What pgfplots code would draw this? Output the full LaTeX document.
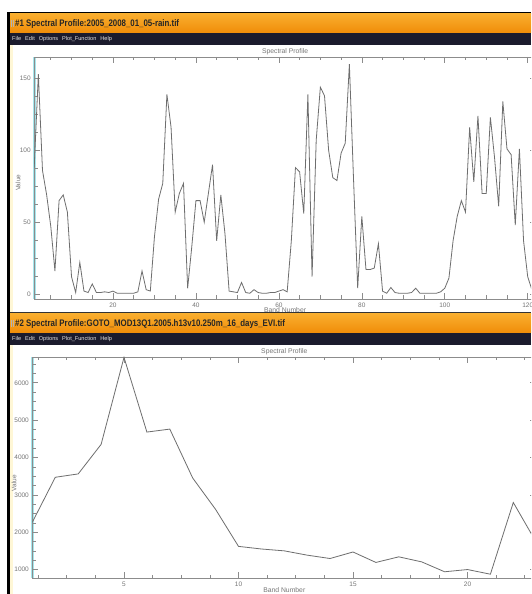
\documentclass[border=0pt]{standalone}
\usepackage{fontspec}
\setmainfont{Liberation Sans}
\usepackage{pgfplots}
\usepackage{pgfplotstable}
\pgfplotsset{compat=1.18}

\definecolor{barlt}{HTML}{F9AE2E}
\definecolor{bardk}{HTML}{F08C08}
\definecolor{menubg}{HTML}{1B1B2D}
\definecolor{axgray}{HTML}{8C8C8C}
\definecolor{curve}{HTML}{6E6E6E}
\definecolor{lbl}{HTML}{767676}
\definecolor{cyanbar}{HTML}{A6E6EC}
\definecolor{cream}{HTML}{FFF7D6}

% rainfall profile, 2005-2008
\pgfplotstableread{
b v
1 88
2 153
3 86
4 69
5 47
6 16
7 65
8 69
9 57
10 12
11 1
12 22
13 2
14 1
15 7
16 1
17 1
18 1.5
19 1
20 2
21 0.5
22 0.5
23 0.5
24 0.5
25 0.5
26 1.5
27 16
28 3
29 2
30 40
31 66
32 77
33 139
34 116
35 57
36 70
37 77
38 4
39 33
40 65
41 65
42 50
43 70
44 90
45 37
46 69
47 42
48 2
49 1.5
50 1
51 8
52 1
53 0.5
54 3
55 1
56 0.5
57 0.5
58 1
59 1
60 2
61 3
62 1.5
63 37
64 88
65 85
66 56
67 139
68 12
69 107
70 144
71 138
72 100
73 81
74 79
75 98
76 105
77 160
78 80
79 4
80 54
81 17
82 17
83 18
84 35
85 2
86 0.5
87 4.5
88 1
89 0.5
90 0.5
91 0.5
92 1
93 4
94 0.5
95 0.5
96 0.5
97 0.5
98 0.5
99 1.5
100 4
101 11
102 37
103 54
104 65
105 57
106 116
107 78
108 124
109 70
110 70
111 123
112 95
113 61
114 134
115 101
116 97
117 48
118 101
119 37
120 12
121 3
122 1
}\rain

% EVI, 23 composites of 16 days
\pgfplotstableread{
b v
1 2270
2 3470
3 3560
4 4350
5 6680
6 4680
7 4760
8 3450
9 2610
10 1620
11 1550
12 1500
13 1385
14 1295
15 1470
16 1190
17 1340
18 1205
19 940
20 1000
21 875
22 2795
23 1730
}\evi

\pgfplotsset{
  envi/.style={
    scale only axis,
    axis line style={axgray, line width=0.7pt},
    tick style={axgray, line width=0.6pt},
    tick align=inside,
    major tick length=6pt,
    minor tick length=3.5pt,
    minor x tick num=3,
    minor y tick num=3,
    ticklabel style={font=\fontsize{6.5}{7}\selectfont, text=lbl},
    /pgf/number format/assume math mode=true,
    /pgf/number format/1000 sep={},
    every axis title shift=0pt,
    title={Spectral Profile},
    title style={at={(axis description cs:0.5,1)}, anchor=center, yshift=5pt,
      font=\fontsize{6.8}{7}\selectfont, text=lbl},
    xlabel={Band Number},
    xlabel style={at={(axis description cs:0.5,0)}, anchor=center, yshift=-11pt,
      font=\fontsize{6.8}{7}\selectfont, text=lbl},
    ylabel={Value},
    ylabel style={font=\fontsize{6.5}{7}\selectfont, text=lbl, anchor=center},
  },
}

\newcommand\menutext{\fontsize{5.6}{6}\selectfont File\hspace{4pt}Edit\hspace{4pt}Options\hspace{4pt}Plot\_Function\hspace{4pt}Help}

\begin{document}
\begin{tikzpicture}[x=1pt,y=1pt]
\useasboundingbox (0,0) rectangle (531,594);
\begin{scope}
\clip (0,0) rectangle (531,594);
\fill[white] (0,0) rectangle (531,594);

% window frame
\fill[black] (7,0) rectangle (10,582);
\fill[black] (7,580) rectangle (531,582);
\fill[cream] (10,0) rectangle (12.5,249);
\fill[cream] (10,281.5) rectangle (12.5,549);

% window 1 bars
\shade[top color=barlt, bottom color=bardk] (10,561) rectangle (531,580);
\fill[menubg] (10,549) rectangle (531,561);
\fill[gray!60] (10.5,566.5) rectangle (12,573.5);
\fill[gray!60] (12.6,566.5) rectangle (14,573.5);
\node[anchor=base west, inner sep=0, text=black!85]
  at (15,567) {\scalebox{0.83}[1]{\fontsize{9.5}{10}\selectfont\bfseries \#1 Spectral Profile:2005\_2008\_01\_05-rain.tif}};
\node[anchor=base west, inner sep=0, text=white!80!gray] at (12,553) {\menutext};

% window 2 bars
\fill[black!80] (10,280) rectangle (531,281.5);
\shade[top color=barlt, bottom color=bardk] (10,261) rectangle (531,280);
\fill[menubg] (10,249) rectangle (531,261);
\fill[gray!60] (10.5,266.5) rectangle (12,273.5);
\fill[gray!60] (12.6,266.5) rectangle (14,273.5);
\node[anchor=base west, inner sep=0, text=black!85]
  at (15,267) {\scalebox{0.83}[1]{\fontsize{9.5}{10}\selectfont\bfseries \#2 Spectral Profile:GOTO\_MOD13Q1.2005.h13v10.250m\_16\_days\_EVI.tif}};
\node[anchor=base west, inner sep=0, text=white!80!gray] at (12,253) {\menutext};

% current band markers
\fill[cyanbar] (32.6,295) rectangle (36,537);
\fill[cyanbar] (30.8,15.5) rectangle (34.2,237);

\begin{axis}[envi,
  at={(34.2pt,295pt)}, anchor=south west,
  width=501.8pt, height=242pt,
  xmin=1, xmax=122, ymin=-3.5, ymax=165,
  xtick distance=20, ytick distance=50,
  ylabel style={at={(axis description cs:-0.032,0.48)}},
]
\addplot[curve, line width=0.8pt] table[x=b, y=v] {\rain};
\end{axis}

\begin{axis}[envi,
  at={(32.4pt,15.5pt)}, anchor=south west,
  width=503.8pt, height=221.5pt,
  xmin=1, xmax=23, ymin=760, ymax=6690,
  xtick distance=5, ytick distance=1000,
  xlabel style={yshift=-0.5pt},
  ylabel style={at={(axis description cs:-0.0365,0.43)}},
]
\addplot[curve, line width=0.8pt] table[x=b, y=v] {\evi};
\end{axis}
\end{scope}
\end{tikzpicture}
\end{document}
